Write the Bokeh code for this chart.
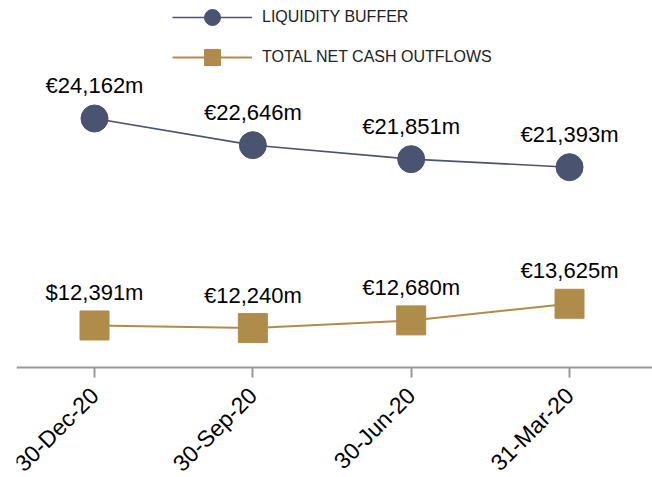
import math
from bokeh.plotting import figure
from bokeh.models import ColumnDataSource, Range1d, FixedTicker, Legend, LegendItem
from bokeh.core.properties import value
from bokeh.embed import file_html
from bokeh.resources import INLINE

dates = ["30-Dec-20", "30-Sep-20", "30-Jun-20", "31-Mar-20"]
liquidity_buffer = [24162, 22646, 21851, 21393]
net_cash_outflows = [12391, 12240, 12680, 13625]
buffer_labels = ["€24,162m", "€22,646m", "€21,851m", "€21,393m"]
outflow_labels = ["$12,391m", "€12,240m", "€12,680m", "€13,625m"]
axis_base = 10000

NAVY = "#4a5370"
GOLD = "#b08c4b"
FONT = "Liberation Sans"

xs = list(range(len(dates)))
src_b = ColumnDataSource(dict(x=xs, y=liquidity_buffer, t=buffer_labels))
src_o = ColumnDataSource(dict(x=xs, y=net_cash_outflows, t=outflow_labels))

p = figure(width=652, height=477, output_backend="svg", toolbar_location=None,
           x_range=Range1d(-0.4927, 3.524), y_range=Range1d(3744, 30873),
           min_border_left=16, min_border_right=0, min_border_top=0,
           min_border_bottom=0)
p.outline_line_color = None
p.xgrid.visible = False
p.ygrid.visible = False
p.yaxis.visible = False
p.background_fill_color = "white"

lb_line = p.line("x", "y", source=src_b, line_color=NAVY, line_width=1.6)
lb_pts = p.scatter("x", "y", source=src_b, marker="circle", size=27,
                   fill_color=NAVY, line_color=NAVY)
oc_line = p.line("x", "y", source=src_o, line_color=GOLD, line_width=2)
oc_pts = p.scatter("x", "y", source=src_o, marker="square", size=29,
                   fill_color=GOLD, line_color=GOLD)

for src in (src_b, src_o):
    p.text("x", "y", text="t", source=src, text_align="center",
           text_baseline="alphabetic", y_offset=-33,
           text_font=value(FONT), text_font_size="22px", text_color="black")

ax = p.xaxis[0]
ax.fixed_location = axis_base
ax.ticker = FixedTicker(ticks=xs)
ax.major_label_overrides = {i: d for i, d in enumerate(dates)}
ax.major_label_orientation = math.pi / 4
ax.major_label_text_font = FONT
ax.major_label_text_font_size = "23px"
ax.major_label_text_color = "black"
ax.major_label_standoff = 14
ax.axis_line_color = "#999999"
ax.axis_line_width = 2
ax.major_tick_line_color = "#999999"
ax.major_tick_line_width = 2
ax.major_tick_out = 10
ax.major_tick_in = 0
ax.minor_tick_line_color = None

legend = Legend(items=[
    LegendItem(label="LIQUIDITY BUFFER", renderers=[lb_line, lb_pts]),
    LegendItem(label="TOTAL NET CASH OUTFLOWS", renderers=[oc_line, oc_pts]),
], location=(156, 400), orientation="vertical")
legend.glyph_width = 80
legend.glyph_height = 40
legend.spacing = -3
legend.padding = 0
legend.margin = 0
legend.border_line_color = None
legend.background_fill_alpha = 0
legend.label_standoff = 10
legend.label_text_font = FONT
legend.label_text_font_size = "16px"
legend.label_text_color = "#222222"
legend.label_height = 20
p.add_layout(legend, "center")

open("out.html", "w").write(file_html(p, INLINE))
